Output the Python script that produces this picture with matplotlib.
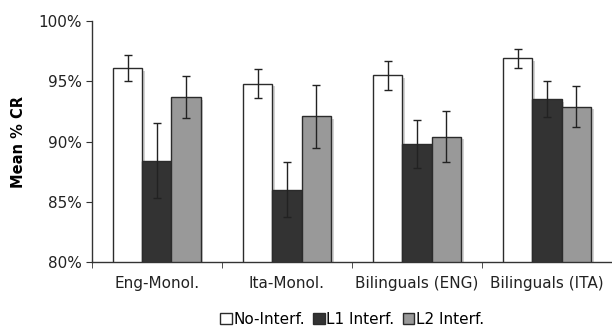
import numpy as np
import matplotlib.pyplot as plt
import matplotlib.patheffects as pe
from matplotlib.patches import Patch
from matplotlib.ticker import FixedLocator, PercentFormatter

groups = ['Eng-Monol.', 'Ita-Monol.', 'Bilinguals (ENG)', 'Bilinguals (ITA)']
conditions = ['No-Interf.', 'L1 Interf.', 'L2 Interf.']

no_interf = [96.1, 94.8, 95.5, 96.9]
no_interf_err = [1.1, 1.2, 1.2, 0.8]
l1_interf = [88.4, 86.0, 89.8, 93.5]
l1_interf_err = [3.1, 2.3, 2.0, 1.5]
l2_interf = [93.7, 92.1, 90.4, 92.9]
l2_interf_err = [1.75, 2.6, 2.1, 1.7]

colors = ['white', '#333333', '#999999']
edge = '#2b2b2b'

fig = plt.figure(figsize=(6.12, 3.28), dpi=100)
ax = fig.add_axes([0.150, 0.201, 0.850, 0.735])

x = np.arange(len(groups))
w = 0.225
shadow = [pe.SimplePatchShadow(offset=(2, -2), shadow_rgbFace='0.65', alpha=0.5), pe.Normal()]

series = [(no_interf, no_interf_err), (l1_interf, l1_interf_err), (l2_interf, l2_interf_err)]
for i, (vals, errs) in enumerate(series):
    bars = ax.bar(x + (i - 1) * w, vals, w, bottom=0, color=colors[i], edgecolor=edge,
                  linewidth=1.0, zorder=2)
    for b in bars:
        b.set_path_effects(shadow)
    ax.errorbar(x + (i - 1) * w, vals, yerr=errs, fmt='none', ecolor='#222222',
                elinewidth=1.0, capsize=3, capthick=1.0, zorder=3)

ax.set_xlim(-0.5, 3.5)
ax.set_ylim(80, 100)
ax.set_yticks([80, 85, 90, 95, 100])
ax.yaxis.set_major_formatter(PercentFormatter(decimals=0))
ax.set_xticks(x)
ax.set_xticklabels(groups)
ax.xaxis.set_minor_locator(FixedLocator([-0.5, 0.5, 1.5, 2.5]))
ax.tick_params(axis='x', which='major', length=0, pad=10, labelsize=11, colors='#222222')
ax.tick_params(axis='x', which='minor', length=4, color='#333333')
ax.tick_params(axis='y', length=4, labelsize=11, colors='#222222', pad=3)
ax.tick_params(axis='y', color='#333333')

for s in ['top', 'right']:
    ax.spines[s].set_visible(False)
for s in ['left', 'bottom']:
    ax.spines[s].set_color('#333333')
    ax.spines[s].set_linewidth(1.0)

ax.set_ylabel('Mean % CR', fontsize=10.5, fontweight='bold', labelpad=9)

handles = [Patch(facecolor=c, edgecolor=edge, linewidth=1.0) for c in colors]
fig.legend(handles, conditions, loc='center', bbox_to_anchor=(0.575, 0.027), ncol=3, frameon=False,
           fontsize=11, handlelength=0.75, handleheight=0.75, handletextpad=0.1,
           columnspacing=0.55, borderaxespad=0, borderpad=0)

fig.savefig('out.png', dpi=100)
